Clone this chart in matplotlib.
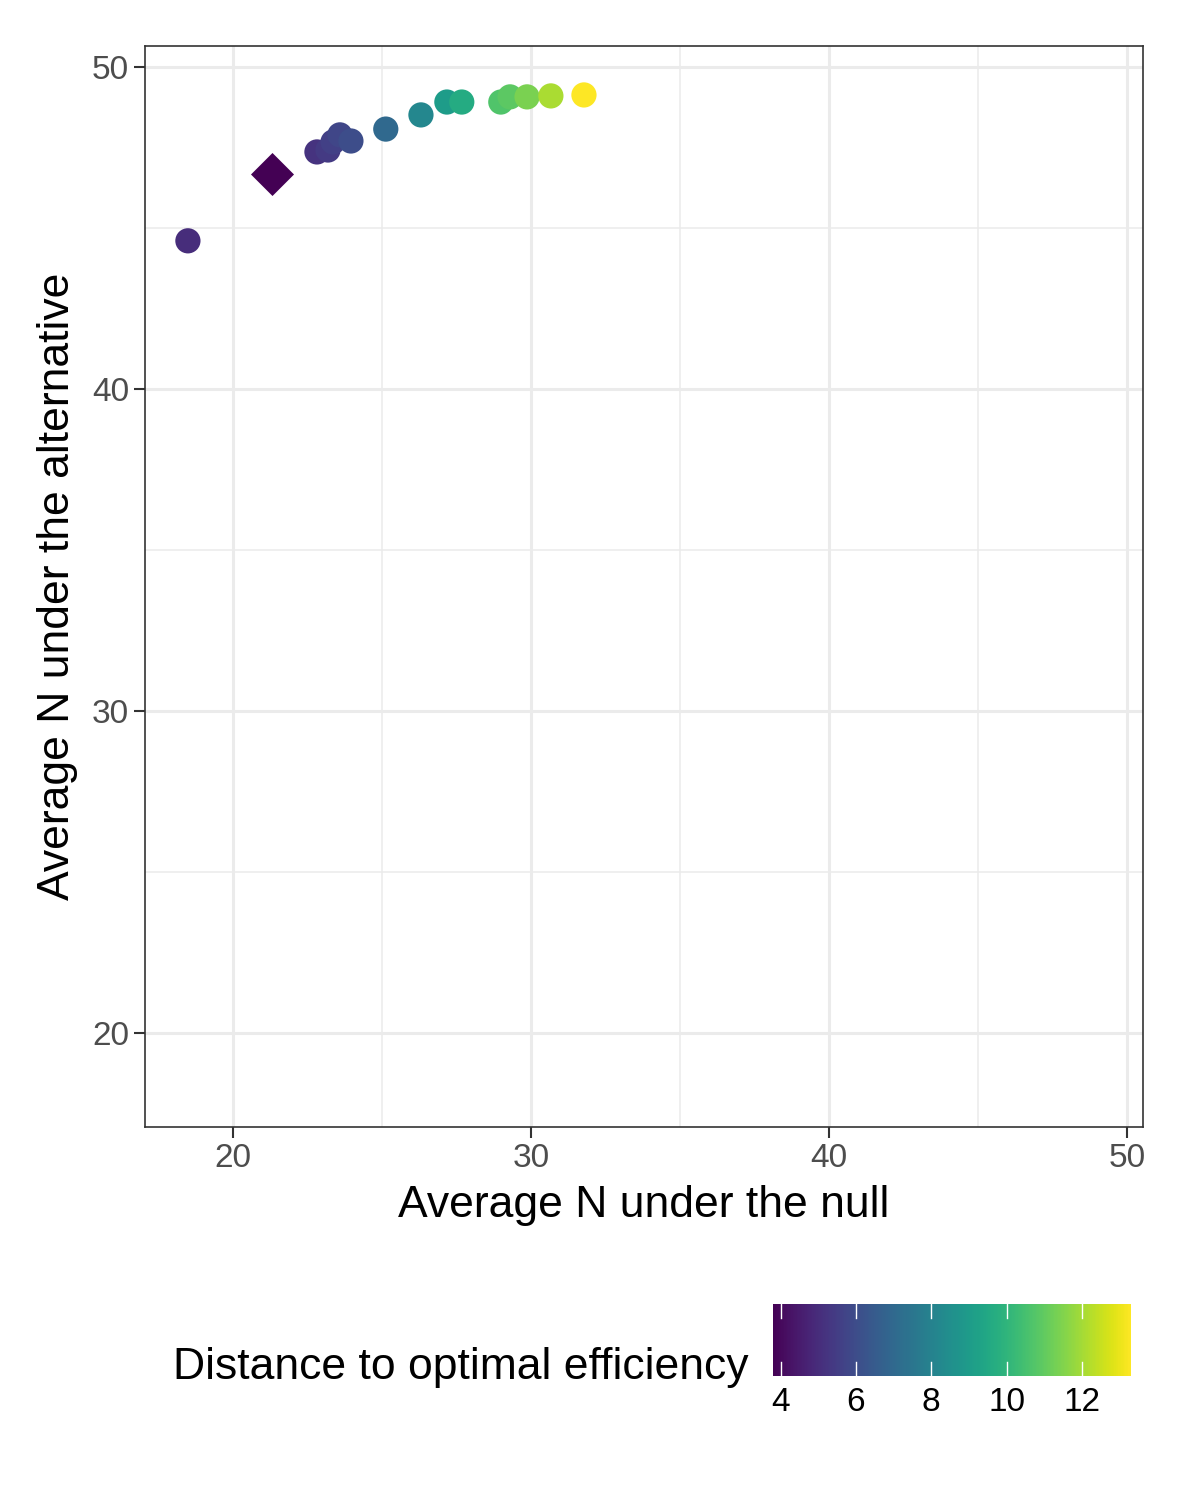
import numpy as np
import matplotlib
matplotlib.use('Agg')
import matplotlib.pyplot as plt
from matplotlib.ticker import MultipleLocator

plt.rcParams['font.family'] = ['Liberation Sans', 'DejaVu Sans']

# circles
null_n = [18.49, 22.82, 23.19, 23.36, 23.59, 23.96, 25.13, 26.31, 27.18, 27.68, 28.99, 29.30, 29.87, 30.67, 31.78]
alt_n = [44.6, 47.36, 47.42, 47.67, 47.89, 47.70, 48.07, 48.51, 48.91, 48.91, 48.91, 49.07, 49.07, 49.10, 49.13]
dist = [5.0, 5.2, 5.4, 5.6, 5.8, 6.0, 7.0, 8.2, 9.0, 9.6, 10.7, 10.9, 11.4, 12.1, 13.3]
# diamond (optimal)
opt_null = [21.31]
opt_alt = [46.68]
opt_dist = [3.8]

fig = plt.figure(figsize=(11.91, 15), dpi=100)
ax = fig.add_axes([145/1191, 1-1127/1500, 998/1191, 1081/1500])
vmin, vmax = 3.8, 13.3
sc = ax.scatter(null_n, alt_n, c=dist, cmap='viridis', vmin=vmin, vmax=vmax, s=330, zorder=3, linewidths=0)
ax.scatter(opt_null, opt_alt, c=opt_dist, cmap='viridis', vmin=vmin, vmax=vmax, s=480, marker='D', zorder=3, linewidths=0)

ax.set_xlim(17.05, 50.54)
ax.set_ylim(17.08, 50.65)
ax.xaxis.set_major_locator(MultipleLocator(10))
ax.yaxis.set_major_locator(MultipleLocator(10))
ax.xaxis.set_minor_locator(MultipleLocator(5))
ax.yaxis.set_minor_locator(MultipleLocator(5))
ax.grid(which='major', color='#ebebeb', lw=2.2)
ax.grid(which='minor', color='#ebebeb', lw=1.1)
ax.tick_params(which='minor', length=0)
ax.tick_params(which='major', length=8, width=1.5, color='#333333', labelsize=24, labelcolor='#4d4d4d')
for s in ax.spines.values():
    s.set_color('#333333')
    s.set_linewidth(1.2)
ax.set_axisbelow(True)
ax.set_xlabel('Average N under the null', fontsize=32, labelpad=8)
ax.set_ylabel('Average N under the alternative', fontsize=32, labelpad=10)

cax = fig.add_axes([773/1191, 1-1376/1500, 358/1191, 72/1500])
cb = fig.colorbar(sc, cax=cax, orientation='horizontal', ticks=[4, 6, 8, 10, 12])
cb.outline.set_visible(False)
cax.tick_params(length=0, labelsize=24, pad=8)
for t in [4, 6, 8, 10, 12]:
    cax.axvline(t, ymin=0, ymax=0.2, color='white', lw=1)
    cax.axvline(t, ymin=0.8, ymax=1, color='white', lw=1)
fig.text(748/1191, 1-1368/1500, 'Distance to optimal efficiency', fontsize=32, ha='right', va='center')

fig.savefig('out.png', dpi=100)
